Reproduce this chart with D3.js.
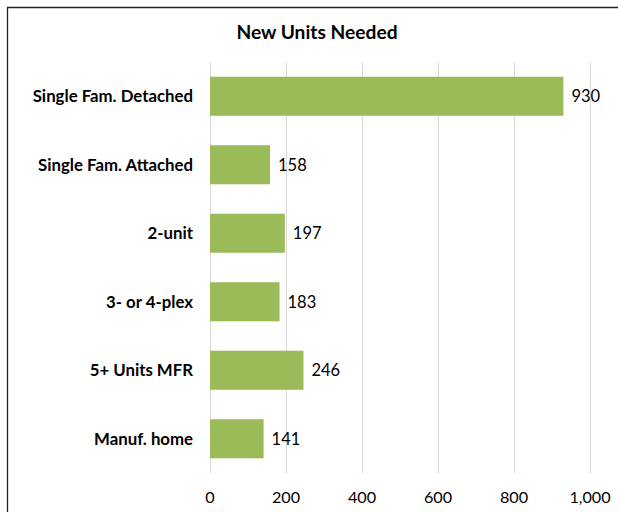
<!DOCTYPE html>
<html><head><meta charset="utf-8">
<script src="https://cdn.jsdelivr.net/npm/d3@7"></script>
<style>body{margin:0;background:#fff;} svg{display:block;}</style>
</head><body>
<svg id="c" width="618" height="512"></svg>
<script>
const categories = ["Single Fam. Detached","Single Fam. Attached","2-unit","3- or 4-plex","5+ Units MFR","Manuf. home"];
const values = [930,158,197,183,246,141];
const tickValues = [0,200,400,600,800,1000];
const title = "New Units Needed";

const svg = d3.select("#c");
const font = "Lato, 'Open Sans', sans-serif";
svg.append("rect").attr("x",0).attr("y",0).attr("width",618).attr("height",512).attr("fill","#fff");
// frame
svg.append("path").attr("d","M7.5,512 V7.5 H618").attr("fill","none").attr("stroke","#222").attr("stroke-width",1.3);

const x = d3.scaleLinear().domain([0,1000]).range([210,590]);
const y = d3.scaleBand().domain(categories).range([62,473]).paddingInner(0.43).paddingOuter(0.215);

svg.append("g").selectAll("line").data(tickValues).join("line")
  .attr("x1",d=>x(d)+0.5).attr("x2",d=>x(d)+0.5).attr("y1",62).attr("y2",473)
  .attr("stroke","#d9d9d9").attr("stroke-width",1);

svg.append("g").selectAll("rect").data(values).join("rect")
  .attr("x",x(0)).attr("y",(d,i)=>y(categories[i]))
  .attr("width",d=>x(d)-x(0)).attr("height",y.bandwidth())
  .attr("fill","#9bbb59");

svg.append("g").selectAll("text").data(values).join("text")
  .attr("x",d=>x(d)+8).attr("y",(d,i)=>y(categories[i])+y.bandwidth()/2)
  .attr("dy","0.35em").attr("font-family",font).attr("font-size",16.5).attr("fill","#000")
  .text(d=>d);

svg.append("g").selectAll("text").data(categories).join("text")
  .attr("x",193).attr("y",d=>y(d)+y.bandwidth()/2).attr("dy","0.35em")
  .attr("text-anchor","end").attr("font-family",font).attr("font-weight","bold").attr("font-size",16.8)
  .text(d=>d);

svg.append("g").selectAll("text").data(tickValues).join("text")
  .attr("x",d=>x(d)).attr("y",497).attr("dy","0.35em").attr("text-anchor","middle")
  .attr("font-family",font).attr("font-size",16.2).text(d=>d3.format(",")(d));

svg.append("text").attr("x",317).attr("y",32).attr("dy","0.35em").attr("text-anchor","middle")
  .attr("font-family",font).attr("font-weight","bold").attr("font-size",19.2).text(title);
</script>
</body></html>
